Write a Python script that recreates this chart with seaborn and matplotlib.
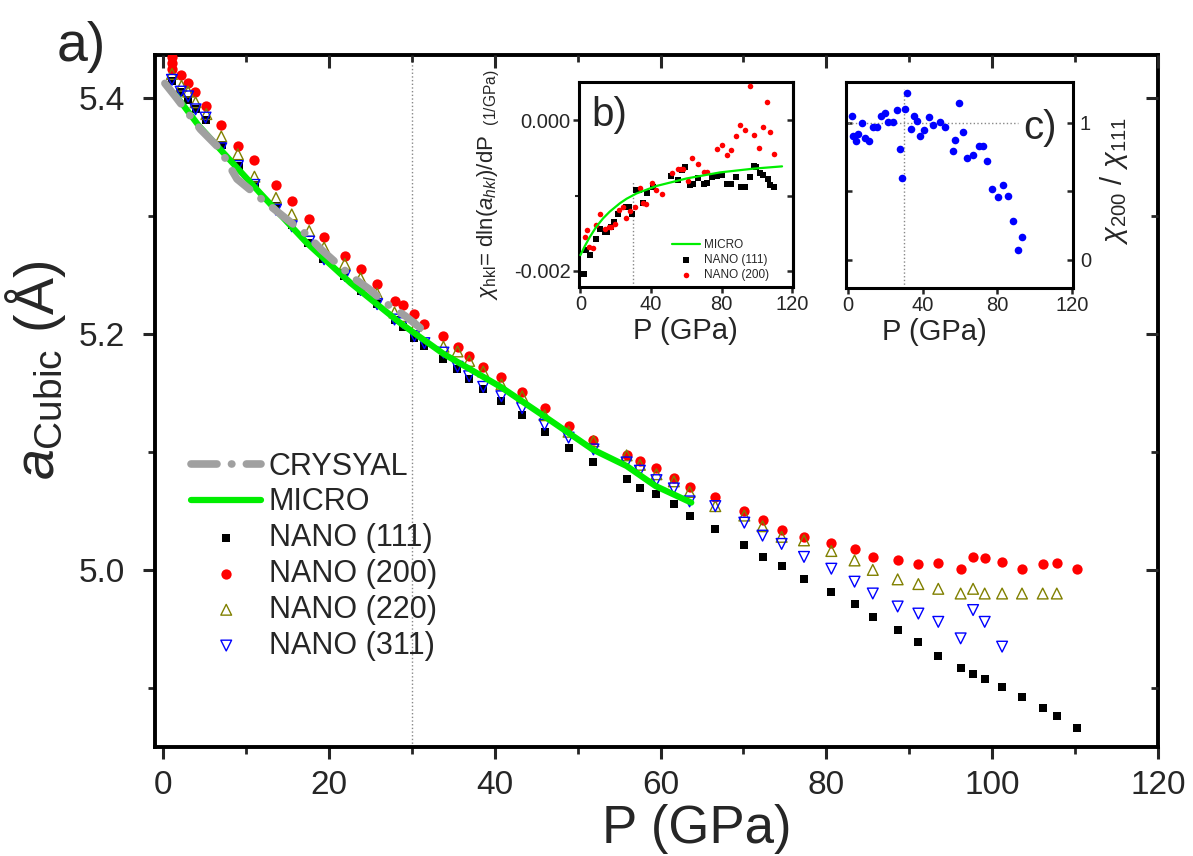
import numpy as np
import pandas as pd
import seaborn as sns
import matplotlib.pyplot as plt
from matplotlib.ticker import MultipleLocator, FixedLocator

sns.set_style("ticks")
plt.rcParams['font.family'] = ['Liberation Sans', 'DejaVu Sans']
plt.rcParams['mathtext.fontset'] = 'custom'
plt.rcParams['mathtext.rm'] = 'Liberation Sans'
plt.rcParams['mathtext.it'] = 'Liberation Sans:italic'
plt.rcParams['axes.unicode_minus'] = False

# ---- main panel a) : lattice parameter vs pressure ----
p_crysyal = [0.2, 1.45, 4.5, 6.9, 7.9, 8.9, 11.5, 13.3, 14.9, 17.3, 19.1, 20.7, 23.0, 24.8, 26.6, 29.2, 31.0]
a_crysyal = [5.412, 5.401, 5.373, 5.356, 5.343, 5.331, 5.316, 5.306, 5.297, 5.284, 5.271, 5.261, 5.247,
             5.238, 5.227, 5.215, 5.205]

p_micro = [1.5, 4.3, 6.5, 11.7, 17.3, 22.6, 28.6, 33.8, 40.7, 46.2, 51.8, 55.9, 59.4, 63.7]
a_micro = [5.402, 5.376, 5.359, 5.319, 5.277, 5.243, 5.209, 5.183, 5.155, 5.129, 5.102, 5.088, 5.071, 5.057]

p_111 = [1.0, 2.0, 3.0, 3.9, 5.1, 7.1, 9.1, 11.1, 13.6, 15.5, 17.5, 19.3, 21.8, 23.8, 25.8, 27.9, 28.9,
         30.3, 31.5, 33.8, 35.4, 36.9, 38.6, 40.8, 43.3, 46.0, 48.9, 51.9, 55.9, 57.5, 59.5, 61.6, 63.5,
         66.6, 70.1, 72.3, 74.6, 77.3, 80.6, 83.4, 85.6, 88.6, 91.1, 93.5, 96.2, 97.7, 99.1, 101.2,
         103.6, 106.1, 107.8, 110.2]
a_111 = [5.414, 5.405, 5.398, 5.390, 5.381, 5.360, 5.342, 5.326, 5.308, 5.292, 5.277, 5.263, 5.249,
         5.236, 5.225, 5.212, 5.206, 5.196, 5.190, 5.179, 5.170, 5.162, 5.153, 5.143, 5.131, 5.117,
         5.103, 5.091, 5.077, 5.069, 5.064, 5.056, 5.046, 5.035, 5.021, 5.011, 5.003, 4.992, 4.981,
         4.971, 4.960, 4.949, 4.939, 4.927, 4.917, 4.912, 4.908, 4.901, 4.892, 4.883, 4.876, 4.866]

p_200 = [1.1, 1.1, 1.1, 2.2, 3.0, 3.8, 5.2, 7.0, 9.0, 11.0, 13.6, 15.5, 17.6, 19.4, 21.9, 23.8, 25.8,
         27.9, 28.9, 30.3, 31.5, 33.8, 35.5, 36.9, 38.6, 40.8, 43.3, 46.0, 48.9, 51.9, 55.9, 57.5,
         59.5, 61.6, 63.5, 66.6, 70.1, 72.3, 74.6, 77.3, 80.6, 83.4, 85.6, 88.6, 91.1, 93.5, 96.2,
         97.7, 99.1, 101.2, 103.6, 106.1, 107.8, 110.2]
a_200 = [5.434, 5.429, 5.424, 5.419, 5.412, 5.405, 5.393, 5.377, 5.359, 5.347, 5.326, 5.312, 5.297,
         5.282, 5.266, 5.255, 5.242, 5.228, 5.224, 5.217, 5.208, 5.198, 5.189, 5.181, 5.172, 5.163,
         5.151, 5.137, 5.122, 5.110, 5.097, 5.092, 5.086, 5.078, 5.070, 5.062, 5.050, 5.042, 5.034,
         5.028, 5.023, 5.018, 5.011, 5.008, 5.005, 5.006, 5.001, 5.011, 5.010, 5.007, 5.001, 5.005,
         5.006, 5.001]

p_220 = [1.05, 2.2, 3.0, 3.9, 5.2, 7.0, 9.0, 11.0, 13.6, 15.5, 17.6, 19.4, 21.9, 23.8, 25.8, 27.9,
         28.9, 30.5, 33.8, 35.5, 36.9, 38.6, 40.8, 43.3, 46.0, 48.9, 51.9, 55.9, 57.5, 59.5, 61.6,
         63.5, 66.6, 70.1, 72.3, 74.6, 77.3, 80.6, 83.4, 85.6, 88.6, 91.1, 93.5, 96.2, 97.7, 99.1,
         101.2, 103.6, 106.1, 107.8]
a_220 = [5.420, 5.410, 5.405, 5.396, 5.386, 5.367, 5.352, 5.333, 5.315, 5.301, 5.287, 5.273, 5.259,
         5.247, 5.234, 5.218, 5.215, 5.207, 5.189, 5.185, 5.177, 5.168, 5.157, 5.147, 5.131, 5.117,
         5.109, 5.097, 5.089, 5.081, 5.075, 5.066, 5.054, 5.046, 5.037, 5.028, 5.025, 5.016, 5.008,
         5.000, 4.992, 4.988, 4.984, 4.980, 4.984, 4.980, 4.980, 4.980, 4.980, 4.980]

p_311 = [1.05, 2.1, 3.0, 3.9, 5.1, 7.0, 9.0, 11.0, 13.6, 15.5, 17.6, 19.4, 21.9, 23.8, 25.8, 27.9,
         28.9, 30.3, 31.5, 33.8, 35.5, 36.9, 38.6, 40.8, 43.3, 46.0, 48.9, 51.9, 55.9, 57.5, 59.5,
         61.6, 63.5, 66.6, 70.1, 72.3, 74.6, 77.3, 80.6, 83.4, 85.6, 88.6, 91.1, 93.5, 96.2, 97.7,
         99.1, 101.2]
a_311 = [5.415, 5.405, 5.401, 5.390, 5.383, 5.357, 5.342, 5.326, 5.305, 5.291, 5.278, 5.263, 5.249,
         5.237, 5.225, 5.212, 5.209, 5.198, 5.192, 5.184, 5.172, 5.164, 5.155, 5.147, 5.137, 5.123,
         5.112, 5.102, 5.091, 5.084, 5.076, 5.069, 5.058, 5.054, 5.040, 5.029, 5.022, 5.011, 5.001,
         4.990, 4.980, 4.969, 4.963, 4.956, 4.942, 4.966, 4.956, 4.935]

# ---- inset b) : compressibility chi_hkl (units 1e-3 1/GPa) ----
p_b_micro = [0, 2.5, 5.3, 9.1, 12.9, 16.7, 22.4, 26.2, 31.8, 43.2, 60.3, 79.2, 98.2, 114.3]
chi_b_micro = [-1.79, -1.67, -1.55, -1.41, -1.30, -1.21, -1.10, -1.04, -0.97, -0.87, -0.77, -0.69,
               -0.64, -0.61]

p_b_111 = [1.9, 3.0, 5.3, 8.7, 11.4, 13.8, 15.2, 17.6, 19.0, 21.4, 25.8, 27.7, 29.0, 31.3, 33.2,
           35.6, 37.5, 40.9, 51.4, 55.5, 57.4, 59.3, 62.2, 63.7, 66.9, 69.8, 71.7, 74.5, 77.3, 80.2,
           83.0, 85.3, 88.3, 91.0, 93.5, 95.9, 98.2, 99.7, 101.6, 103.5, 106.2, 107.7, 110.0]
chi_b_111 = [-2.04, -1.72, -1.79, -1.58, -1.44, -1.48, -1.48, -1.41, -1.35, -1.24, -1.15, -1.15,
             -1.24, -0.93, -0.93, -1.10, -0.97, -0.88, -0.74, -0.79, -0.66, -0.62, -0.86, -0.84,
             -0.76, -0.84, -0.83, -0.75, -0.74, -0.72, -0.84, -0.84, -0.75, -0.88, -0.89, -0.75,
             -0.61, -0.62, -0.70, -0.72, -0.78, -0.86, -0.89]

p_b_200 = [2.5, 3.8, 4.9, 7.2, 8.7, 11.0, 13.8, 16.3, 17.6, 19.5, 22.0, 24.3, 25.8, 28.1, 30.9,
           33.7, 35.6, 37.2, 40.4, 42.8, 46.1, 51.8, 55.5, 57.1, 58.4, 61.2, 63.1, 66.4, 69.8, 72.0,
           77.3, 80.2, 83.0, 85.3, 88.3, 90.6, 93.5, 95.9, 98.6, 101.0, 103.5, 105.8, 107.7, 110.0]
chi_b_200 = [-1.55, -1.46, -1.68, -1.70, -1.39, -1.24, -1.44, -1.42, -1.42, -1.37, -1.19, -1.15,
             -1.29, -1.20, -1.15, -0.90, -1.10, -1.11, -0.83, -0.92, -0.98, -0.70, -0.64, -0.64,
             -0.65, -0.81, -0.50, -0.58, -0.69, -0.69, -0.38, -0.32, -0.46, -0.39, -0.20, -0.06,
             -0.13, 0.46, -0.19, -0.37, -0.09, 0.24, -0.15, -0.44]

# ---- inset c) : ratio chi_200 / chi_111 ----
p_c = [2.1, 2.7, 3.9, 5.4, 7.1, 8.9, 11.3, 13.4, 15.5, 17.5, 19.6, 21.4, 24.1, 25.9, 27.7, 28.9,
       30.4, 31.6, 33.6, 35.4, 37.1, 38.4, 40.7, 43.2, 45.5, 49.1, 52.0, 55.9, 57.3, 59.5, 61.6,
       63.4, 67.0, 70.2, 72.3, 74.6, 77.1, 80.4, 83.0, 85.4, 88.4, 91.1, 93.4]
ratio_c = [1.054, 0.907, 0.866, 0.922, 1.0, 0.89, 0.866, 0.971, 0.971, 1.054, 1.073, 1.005, 1.005,
           1.093, 0.81, 0.598, 1.102, 1.22, 0.956, 1.054, 1.012, 0.907, 0.946, 1.041, 0.988, 1.005,
           0.971, 0.793, 0.878, 1.146, 0.932, 0.744, 0.763, 0.834, 0.834, 0.72, 0.517, 0.459, 0.549,
           0.468, 0.28, 0.068, 0.163]

GREEN = '#00EE00'
GRAY = '#A0A0A0'
OLIVE = '#808000'

fig = plt.figure(figsize=(11.93, 8.56), dpi=100)
ax = fig.add_axes([0.1299, 0.1273, 0.8407, 0.8084])

# lines
sns.lineplot(x=p_micro, y=a_micro, color=GREEN, lw=4.5, sort=False, estimator=None,
             label='MICRO', ax=ax, zorder=4)
sns.lineplot(x=p_crysyal, y=a_crysyal, color=GRAY, lw=5.5, sort=False, estimator=None,
             label='CRYSYAL', ax=ax, zorder=5)
crys_line = ax.lines[-1]
crys_line.set_dashes((3.4, 1.9, 0.05, 1.9))
crys_line.set_dash_capstyle('round')

# markers
sns.scatterplot(x=p_111, y=a_111, marker='s', s=38, color='black', edgecolor='black',
                linewidth=0, label='NANO (111)', ax=ax, zorder=3)
sns.scatterplot(x=p_200, y=a_200, marker='o', s=55, color='#FF0000', edgecolor='#FF0000',
                linewidth=0, label='NANO (200)', ax=ax, zorder=3)
sns.scatterplot(x=p_220, y=a_220, marker='^', s=60, facecolor='none', edgecolor=OLIVE,
                linewidth=1.0, label='NANO (220)', ax=ax, zorder=3)
sns.scatterplot(x=p_311, y=a_311, marker='v', s=60, facecolor='none', edgecolor='#0000FF',
                linewidth=1.0, label='NANO (311)', ax=ax, zorder=3)

ax.axvline(30, color='#888888', ls=':', lw=1.0, zorder=1)

ax.set_xlim(-1, 120)
ax.set_ylim(4.85, 5.436)
ax.xaxis.set_major_locator(MultipleLocator(20))
ax.xaxis.set_minor_locator(MultipleLocator(10))
ax.yaxis.set_major_locator(FixedLocator([5.0, 5.2, 5.4]))
ax.yaxis.set_minor_locator(MultipleLocator(0.1))
ax.tick_params(which='both', bottom=True, left=True, top=False, right=False)
ax.tick_params(which='major', direction='out', length=8.5, width=2.2, labelsize=24)
ax.tick_params(axis='x', which='major', pad=8)
ax.tick_params(axis='y', which='major', pad=13)
ax.tick_params(which='minor', direction='out', length=5, width=2.0)
for sp in ax.spines.values():
    sp.set_linewidth(2.8)
    sp.set_color('black')

# inward ticks on the top and right frame
top = ax.twiny()
top.set_xlim(ax.get_xlim())
top.xaxis.set_major_locator(MultipleLocator(20))
top.xaxis.set_minor_locator(MultipleLocator(10))
top.tick_params(which='both', top=True, bottom=False, labeltop=False, direction='in')
top.tick_params(which='major', length=9, width=2.2)
top.tick_params(which='minor', length=5, width=2.0)
right = ax.twinx()
right.set_ylim(ax.get_ylim())
right.yaxis.set_major_locator(FixedLocator([5.0, 5.2, 5.4]))
right.yaxis.set_minor_locator(MultipleLocator(0.1))
right.tick_params(which='both', right=True, left=False, labelright=False, direction='in')
right.tick_params(which='major', length=9, width=2.2)
right.tick_params(which='minor', length=5, width=2.0)
for extra in (top, right):
    for sp in extra.spines.values():
        sp.set_visible(False)

ax.set_xlabel('P (GPa)', fontsize=38)
ax.xaxis.set_label_coords(0.54, -0.083)
ax.set_ylabel(r'$a_{\mathrm{Cubic}}$ (Å)', fontsize=40)
ax.yaxis.set_label_coords(-0.087, 0.545)

handles, labels = ax.get_legend_handles_labels()
order = ['CRYSYAL', 'MICRO', 'NANO (111)', 'NANO (200)', 'NANO (220)', 'NANO (311)']
hmap = dict(zip(labels, handles))
ax.legend([hmap[k] for k in order], order, loc='upper left', bbox_to_anchor=(0.036, 0.427),
          frameon=False, fontsize=22, handlelength=2.3, handletextpad=0.25,
          labelspacing=0.19, borderpad=0, borderaxespad=0)

fig.text(0.068, 0.945, 'a)', fontsize=40, ha='center', va='center')

# ---- inset b ----
axb = fig.add_axes([0.4853, 0.6647, 0.1794, 0.2395])
chi_b_micro_v = [v * 1e-3 for v in chi_b_micro]
chi_b_111_v = [v * 1e-3 for v in chi_b_111]
chi_b_200_v = [v * 1e-3 for v in chi_b_200]
sns.lineplot(x=p_b_micro, y=chi_b_micro_v, color=GREEN, lw=1.6, sort=False, estimator=None,
             label='MICRO', ax=axb, zorder=4)
sns.scatterplot(x=p_b_111, y=chi_b_111_v, marker='s', s=13, color='black', edgecolor='black',
                linewidth=0, label='NANO (111)', ax=axb, zorder=3)
sns.scatterplot(x=p_b_200, y=chi_b_200_v, marker='o', s=16, color='#FF0000', edgecolor='#FF0000',
                linewidth=0, label='NANO (200)', ax=axb, zorder=3)
axb.vlines(30, -0.002213, -0.0008, colors='#888888', linestyles=':', lw=1.0)
axb.set_xlim(-0.8, 120.5)
axb.set_ylim(-0.002213, 0.000511)
axb.xaxis.set_major_locator(MultipleLocator(40))
axb.yaxis.set_major_locator(FixedLocator([-0.002, 0.0]))
axb.yaxis.set_minor_locator(FixedLocator([-0.001]))
axb.set_yticklabels(['-0.002', '0.000'])
axb.tick_params(which='both', bottom=True, left=True, top=False, right=False)
axb.tick_params(which='major', direction='out', length=4, width=1.8, labelsize=14.5, pad=2)
axb.tick_params(which='minor', direction='out', length=3, width=1.5)
bright = axb.secondary_yaxis('right')
bright.yaxis.set_major_locator(FixedLocator([-0.002, 0.0]))
bright.yaxis.set_minor_locator(FixedLocator([-0.001]))
bright.tick_params(which='both', right=True, left=False, labelright=False, direction='in',
                   length=4, width=1.8)
for sp in list(axb.spines.values()) + [bright.spines['right']]:
    sp.set_linewidth(2.2)
    sp.set_color('black')
axb.set_xlabel('P (GPa)', fontsize=21)
axb.xaxis.set_label_coords(0.495, -0.145)
axb.set_ylabel(r'$\chi_{\mathrm{hkl}}$= dln($a_{hkl}$)/dP $_{\mathrm{\ (1/GPa)}}$', fontsize=16)
axb.yaxis.set_label_coords(-0.36, 0.5)
axb.legend(loc='lower right', bbox_to_anchor=(0.89, 0.03), frameon=False, fontsize=8.5,
           handlelength=2.3, handletextpad=0.4, labelspacing=0.25, borderpad=0, borderaxespad=0,
           markerscale=1.0)
axb.text(0.06, 0.84, 'b)', transform=axb.transAxes, fontsize=29, ha='left', va='center')

# ---- inset c ----
axc = fig.add_axes([0.7091, 0.6636, 0.1903, 0.2407])
sns.scatterplot(x=p_c, y=ratio_c, marker='o', s=30, color='#0000FF', edgecolor='#0000FF',
                linewidth=0, ax=axc, zorder=3)
axc.vlines(30, -0.207, 1.25, colors='#888888', linestyles=':', lw=1.0)
axc.hlines(1, 0, 91, colors='#888888', linestyles=':', lw=1.0)
axc.set_xlim(-1.25, 120.5)
axc.set_ylim(-0.207, 1.30)
axc.xaxis.set_major_locator(MultipleLocator(40))
axc.yaxis.set_major_locator(FixedLocator([0, 1]))
axc.yaxis.set_minor_locator(FixedLocator([0.5]))
axc.tick_params(axis='x', which='major', bottom=True, top=False, direction='out', length=4,
                width=1.8, labelsize=14.5, pad=2)
axc.tick_params(axis='y', which='both', direction='in', length=4, width=1.8, labelsize=14.5,
                left=True, right=True, labelleft=False, labelright=True, pad=5)
for sp in axc.spines.values():
    sp.set_linewidth(2.2)
    sp.set_color('black')
axc.set_xlabel('P (GPa)', fontsize=21)
axc.xaxis.set_label_coords(0.39, -0.145)
axc.yaxis.set_label_position('right')
axc.set_ylabel(r'$\chi_{200}$ / $\chi_{111}$', fontsize=21, rotation=90)
axc.yaxis.set_label_coords(1.11, 0.52)
axc.text(0.78, 0.777, 'c)', transform=axc.transAxes, fontsize=29, ha='left', va='center')

fig.savefig('out.png', dpi=100)
